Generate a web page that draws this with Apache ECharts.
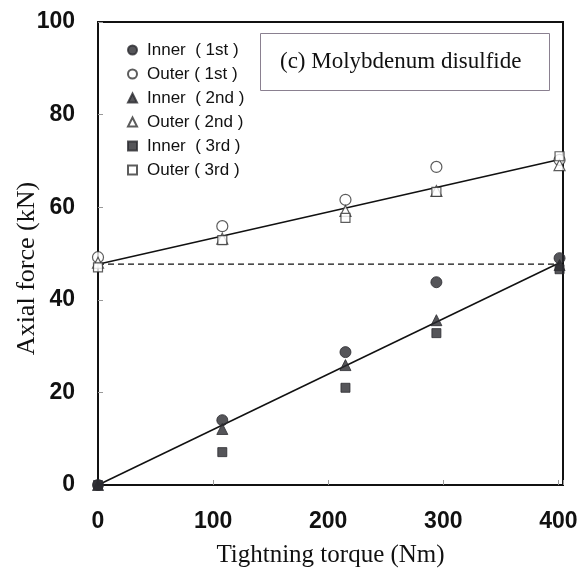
<!DOCTYPE html>
<html>
<head>
<meta charset="utf-8">
<script src="https://cdn.jsdelivr.net/npm/echarts@6/dist/echarts.min.js"></script>
<style>
html,body{margin:0;padding:0;background:#fff;}
#chart{width:582px;height:570px;}
</style>
</head>
<body>
<div id="chart"></div>
<script>
// ---- data ----
var torque = [0, 108, 215, 294, 401];
var inner1st = [0, 14.0, 28.7, 43.8, 49.0];
var outer1st = [49.2, 55.9, 61.6, 68.7, 70.2];
var inner2nd = [0, 12.1, 25.9, 35.6, 47.5];
var outer2nd = [48.0, 53.2, 59.2, 63.5, 69.1];
var inner3rd = [0, 7.1, 21.0, 32.8, 46.6];
var outer3rd = [47.0, 52.9, 57.7, 63.3, 71.0];
var outerFitX = [0, 401];
var outerFitY = [47.7, 70.3];
var innerFitX = [0, 401];
var innerFitY = [0, 48.0];
var dashX = [0, 401];
var dashY = [47.7, 47.7];
var xTicks = [0, 100, 200, 300, 400];
var yTicks = [0, 20, 40, 60, 80, 100];
var seriesNames = ['Inner  ( 1st )', 'Outer ( 1st )', 'Inner  ( 2nd )', 'Outer ( 2nd )', 'Inner  ( 3rd )', 'Outer ( 3rd )'];
var titleText = '(c) Molybdenum disulfide';
var xName = 'Tightning torque (Nm)';
var yName = 'Axial force (kN)';

function pairs(xs, ys) { return xs.map(function (x, i) { return [x, ys[i]]; }); }

var dark = '#2b2b30';
function markerSeries(name, ys, symbol, filled, size) {
  return {
    name: name, type: 'scatter', data: pairs(torque, ys), symbol: symbol, symbolSize: size,
    itemStyle: filled ? { color: dark, borderColor: dark, borderWidth: 1 } : { color: '#fff', borderColor: '#333', borderWidth: 1.2 },
    z: 5
  };
}
function lineSeries(xs, ys, dashed) {
  return {
    type: 'line', data: pairs(xs, ys), symbol: 'none', silent: true,
    lineStyle: { color: '#111', width: dashed ? 1.3 : 1.5, type: dashed ? [6, 4] : 'solid' },
    z: 3
  };
}

var chart = echarts.init(document.getElementById('chart'));
chart.setOption({
  animation: false,
  backgroundColor: '#fff',
  title: {
    text: titleText, left: 260, top: 33,
    borderColor: '#8a8090', borderWidth: 1,
    padding: [17, 28, 18, 20],
    textStyle: { fontFamily: 'Liberation Serif, Times New Roman, serif', fontWeight: 'normal', fontSize: 23, color: '#111' }
  },
  legend: {
    orient: 'vertical', left: 122, top: 35, itemGap: 4,
    itemWidth: 9, itemHeight: 9,
    data: seriesNames,
    textStyle: { fontFamily: 'Liberation Sans, Arial, sans-serif', fontSize: 17, color: '#111', lineHeight: 20, padding: [0, 0, 0, 5] }
  },
  grid: {
    left: 98, right: 19, top: 22, bottom: 85, containLabel: false, outerBoundsMode: 'none',
    show: true, borderColor: '#111', borderWidth: 2, backgroundColor: 'transparent'
  },
  xAxis: {
    type: 'value', min: 0, max: 404, interval: 100,
    name: xName, nameLocation: 'middle', nameGap: 58, nameMoveOverlap: false,
    nameTextStyle: { fontFamily: 'Liberation Serif, Times New Roman, serif', fontSize: 25, color: '#111' },
    axisLine: { lineStyle: { color: '#111', width: 2 } },
    axisTick: { inside: true, length: 5, lineStyle: { color: '#999' } },
    axisLabel: {
      margin: 25, fontFamily: 'Liberation Sans, Arial, sans-serif', fontWeight: 'bold', fontSize: 23, color: '#111',
      formatter: function (v) { return xTicks.indexOf(v) >= 0 ? String(v) : ''; }
    },
    splitLine: { show: false }
  },
  yAxis: {
    type: 'value', min: 0, max: 100, interval: 20,
    name: yName, nameLocation: 'middle', nameGap: 58, nameRotate: 90, nameMoveOverlap: false,
    nameTextStyle: { fontFamily: 'Liberation Serif, Times New Roman, serif', fontSize: 26, color: '#111', padding: [0, 30, 0, 0] },
    axisLine: { lineStyle: { color: '#111', width: 2 } },
    axisTick: { inside: true, length: 5, lineStyle: { color: '#999' } },
    axisLabel: {
      margin: 23, fontFamily: 'Liberation Sans, Arial, sans-serif', fontWeight: 'bold', fontSize: 23, color: '#111',
      formatter: function (v) { return yTicks.indexOf(v) >= 0 ? String(v) : ''; }
    },
    splitLine: { show: false }
  },
  series: [
    lineSeries(outerFitX, outerFitY, false),
    lineSeries(innerFitX, innerFitY, false),
    lineSeries(dashX, dashY, true),
    markerSeries(seriesNames[0], inner1st, 'circle', true, 11),
    markerSeries(seriesNames[1], outer1st, 'circle', false, 11),
    markerSeries(seriesNames[2], inner2nd, 'triangle', true, 11),
    markerSeries(seriesNames[3], outer2nd, 'triangle', false, 11),
    markerSeries(seriesNames[4], inner3rd, 'rect', true, 9),
    markerSeries(seriesNames[5], outer3rd, 'rect', false, 9)
  ]
});
</script>
</body>
</html>
